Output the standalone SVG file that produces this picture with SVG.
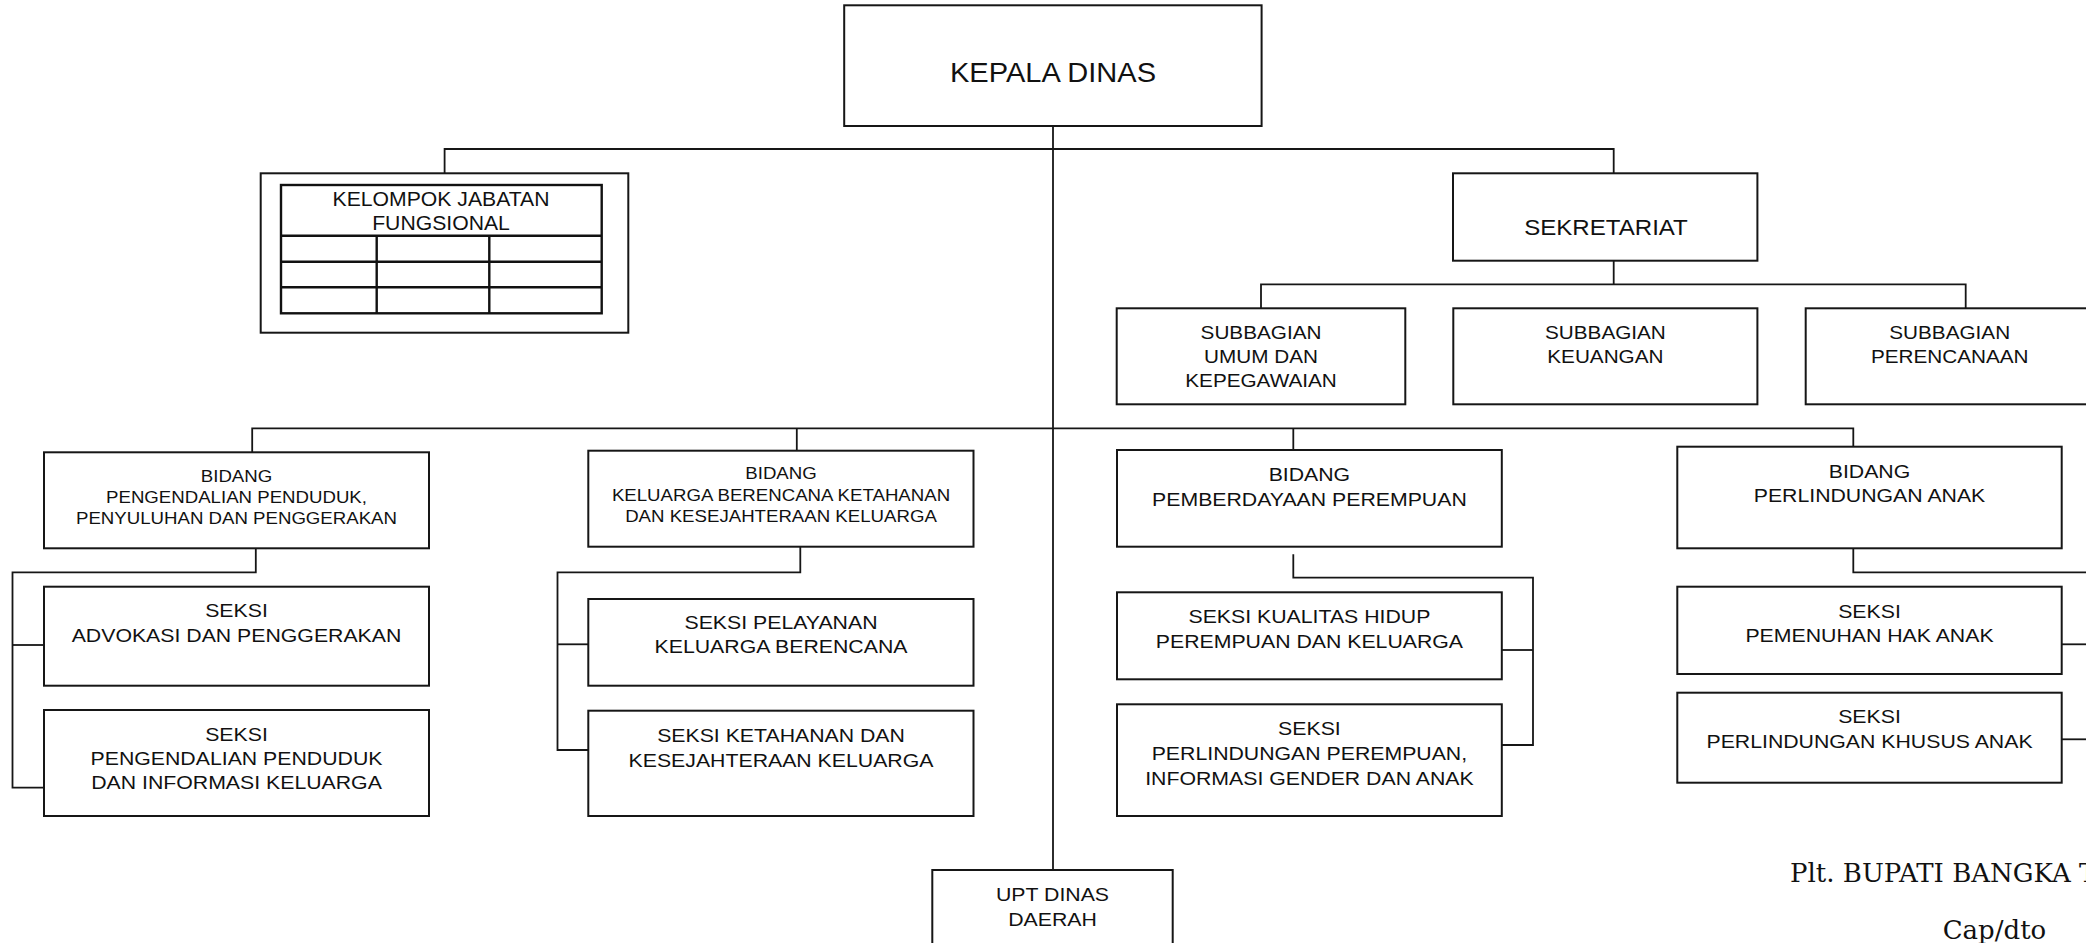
<svg xmlns="http://www.w3.org/2000/svg" width="2086" height="943" viewBox="0 0 2086 943">
<style>
.box{fill:#fff;stroke:#161616;stroke-width:2}
.ln{fill:none;stroke:#161616;stroke-width:1.8}
.tb{fill:none;stroke:#111;stroke-width:2.4}
text{font-family:"Liberation Sans",Arial,Helvetica,sans-serif;text-anchor:middle;fill:#111}
.f28{font-size:28.5px}.f23{font-size:22.5px}.f20{font-size:20px}.f18{font-size:18.5px}.f16{font-size:16.5px}.f19{font-size:19px}
.serif{font-family:"DejaVu Serif","Liberation Serif",serif;font-size:26px;text-anchor:start}
</style>
<rect width="2086" height="943" fill="#fff"/>
<g id="connectors">
<path class="ln" d="M1053 126 V870"/>
<path class="ln" d="M444.6 173.3 V149 H1613.7 V173.3"/>
<path class="ln" d="M1613.7 260.7 V284.3"/>
<path class="ln" d="M1261 308.3 V284.3 H1965.7 V308.3"/>
<path class="ln" d="M252.2 452.3 V428.3 H1853.3 V446.7"/>
<path class="ln" d="M796.8 428.3 V450.7"/>
<path class="ln" d="M1293.3 428.3 V450"/>
<path class="ln" d="M255.8 548.3 V572.3 H12.5 V787.7 H44"/>
<path class="ln" d="M12.5 645 H44"/>
<path class="ln" d="M800.3 546.7 V572.3 H557.5 V750 H588.3"/>
<path class="ln" d="M557.5 644.3 H588.3"/>
<path class="ln" d="M1293.3 554.3 V577.7 H1533 V745 H1501.8"/>
<path class="ln" d="M1533 650 H1501.8"/>
<path class="ln" d="M1853.3 548.3 V572.3 H2090"/>
<path class="ln" d="M2061.7 644.3 H2090"/>
<path class="ln" d="M2061.7 739.3 H2090"/>
</g>
<g id="kepala-dinas">
<rect class="box" x="844.2" y="5.3" width="417.4" height="120.7"/>
<text class="f28" transform="translate(1053 0) scale(1.02 1)"><tspan x="0" y="81.7">KEPALA DINAS</tspan></text>
</g>
<g id="kelompok-jabatan-fungsional">
<rect class="box" x="260.7" y="173.3" width="367.6" height="159.4"/>
<rect class="tb" x="281" y="185" width="320.7" height="128.3"/>
<path class="tb" d="M281 235.7 H601.7 M281 261.7 H601.7 M281 287.3 H601.7 M376.7 235.7 V313.3 M489.3 235.7 V313.3"/>
<text class="f20" transform="translate(441 0) scale(1.06 1)"><tspan x="0" y="206">KELOMPOK JABATAN</tspan><tspan x="0" y="230">FUNGSIONAL</tspan></text>
</g>
<g id="sekretariat">
<rect class="box" x="1453" y="173.3" width="304.4" height="87.4"/>
<text class="f23" transform="translate(1606 0) scale(1.07 1)"><tspan x="0" y="235">SEKRETARIAT</tspan></text>
</g>
<g id="subbagian-umum">
<rect class="box" x="1116.7" y="308.3" width="288.6" height="96"/>
<text class="f18" transform="translate(1261 0) scale(1.12 1)"><tspan x="0" y="339.3">SUBBAGIAN</tspan><tspan x="0" y="363.3">UMUM DAN</tspan><tspan x="0" y="387.3">KEPEGAWAIAN</tspan></text>
</g>
<g id="subbagian-keuangan">
<rect class="box" x="1453.3" y="308.3" width="304.1" height="96"/>
<text class="f18" transform="translate(1605.4 0) scale(1.12 1)"><tspan x="0" y="339.5">SUBBAGIAN</tspan><tspan x="0" y="363.5">KEUANGAN</tspan></text>
</g>
<g id="subbagian-perencanaan">
<rect class="box" x="1805.7" y="308.3" width="288.6" height="96"/>
<text class="f18" transform="translate(1949.7 0) scale(1.12 1)"><tspan x="0" y="339.3">SUBBAGIAN</tspan><tspan x="0" y="363.3">PERENCANAAN</tspan></text>
</g>
<g id="bidang-pengendalian-penduduk">
<rect class="box" x="44" y="452.3" width="385" height="96"/>
<text class="f16" transform="translate(236.5 0) scale(1.13 1)"><tspan x="0" y="481.7">BIDANG</tspan><tspan x="0" y="503.3">PENGENDALIAN PENDUDUK,</tspan><tspan x="0" y="524.3">PENYULUHAN DAN PENGGERAKAN</tspan></text>
</g>
<g id="seksi-advokasi">
<rect class="box" x="44" y="586.7" width="385" height="99"/>
<text class="f19" transform="translate(236.5 0) scale(1.12 1)"><tspan x="0" y="617.3">SEKSI</tspan><tspan x="0" y="641.7">ADVOKASI DAN PENGGERAKAN</tspan></text>
</g>
<g id="seksi-pengendalian-penduduk">
<rect class="box" x="44" y="710" width="385" height="106"/>
<text class="f19" transform="translate(236.5 0) scale(1.12 1)"><tspan x="0" y="740.7">SEKSI</tspan><tspan x="0" y="765">PENGENDALIAN PENDUDUK</tspan><tspan x="0" y="789.3">DAN INFORMASI KELUARGA</tspan></text>
</g>
<g id="bidang-keluarga-berencana">
<rect class="box" x="588.3" y="450.7" width="385.2" height="96"/>
<text class="f16" transform="translate(781 0) scale(1.13 1)"><tspan x="0" y="479">BIDANG</tspan><tspan x="0" y="501">KELUARGA BERENCANA KETAHANAN</tspan><tspan x="0" y="521.7">DAN KESEJAHTERAAN KELUARGA</tspan></text>
</g>
<g id="seksi-pelayanan-kb">
<rect class="box" x="588.3" y="599" width="385.2" height="86.7"/>
<text class="f19" transform="translate(781 0) scale(1.12 1)"><tspan x="0" y="629.3">SEKSI PELAYANAN</tspan><tspan x="0" y="653.3">KELUARGA BERENCANA</tspan></text>
</g>
<g id="seksi-ketahanan">
<rect class="box" x="588.3" y="710.7" width="385.2" height="105.3"/>
<text class="f19" transform="translate(781 0) scale(1.12 1)"><tspan x="0" y="741.7">SEKSI KETAHANAN DAN</tspan><tspan x="0" y="766.7">KESEJAHTERAAN KELUARGA</tspan></text>
</g>
<g id="bidang-pemberdayaan-perempuan">
<rect class="box" x="1117" y="450" width="384.8" height="96.7"/>
<text class="f19" transform="translate(1309.4 0) scale(1.12 1)"><tspan x="0" y="481">BIDANG</tspan><tspan x="0" y="506">PEMBERDAYAAN PEREMPUAN</tspan></text>
</g>
<g id="seksi-kualitas-hidup">
<rect class="box" x="1117" y="592.3" width="384.8" height="87"/>
<text class="f19" transform="translate(1309.4 0) scale(1.12 1)"><tspan x="0" y="623.3">SEKSI KUALITAS HIDUP</tspan><tspan x="0" y="647.7">PEREMPUAN DAN KELUARGA</tspan></text>
</g>
<g id="seksi-perlindungan-perempuan">
<rect class="box" x="1117" y="704.3" width="384.8" height="111.7"/>
<text class="f19" transform="translate(1309.4 0) scale(1.12 1)"><tspan x="0" y="735">SEKSI</tspan><tspan x="0" y="760">PERLINDUNGAN PEREMPUAN,</tspan><tspan x="0" y="785">INFORMASI GENDER DAN ANAK</tspan></text>
</g>
<g id="bidang-perlindungan-anak">
<rect class="box" x="1677.3" y="446.7" width="384.4" height="101.6"/>
<text class="f19" transform="translate(1869.5 0) scale(1.12 1)"><tspan x="0" y="477.7">BIDANG</tspan><tspan x="0" y="501.7">PERLINDUNGAN ANAK</tspan></text>
</g>
<g id="seksi-pemenuhan-hak-anak">
<rect class="box" x="1677.3" y="586.7" width="384.4" height="87.3"/>
<text class="f19" transform="translate(1869.5 0) scale(1.12 1)"><tspan x="0" y="618.3">SEKSI</tspan><tspan x="0" y="641.7">PEMENUHAN HAK ANAK</tspan></text>
</g>
<g id="seksi-perlindungan-khusus-anak">
<rect class="box" x="1677.3" y="692.7" width="384.4" height="90"/>
<text class="f19" transform="translate(1869.5 0) scale(1.12 1)"><tspan x="0" y="723.3">SEKSI</tspan><tspan x="0" y="748.3">PERLINDUNGAN KHUSUS ANAK</tspan></text>
</g>
<g id="upt-dinas-daerah">
<rect class="box" x="932.3" y="870" width="240.4" height="90"/>
<text class="f19" transform="translate(1052.5 0) scale(1.12 1)"><tspan x="0" y="900.7">UPT DINAS</tspan><tspan x="0" y="926">DAERAH</tspan></text>
</g>
<g id="signature">
<text class="serif" x="1790" y="881.7">Plt. BUPATI BANGKA T</text>
<text class="serif" x="1942.7" y="938.5">Cap/dto</text>
</g>
</svg>
